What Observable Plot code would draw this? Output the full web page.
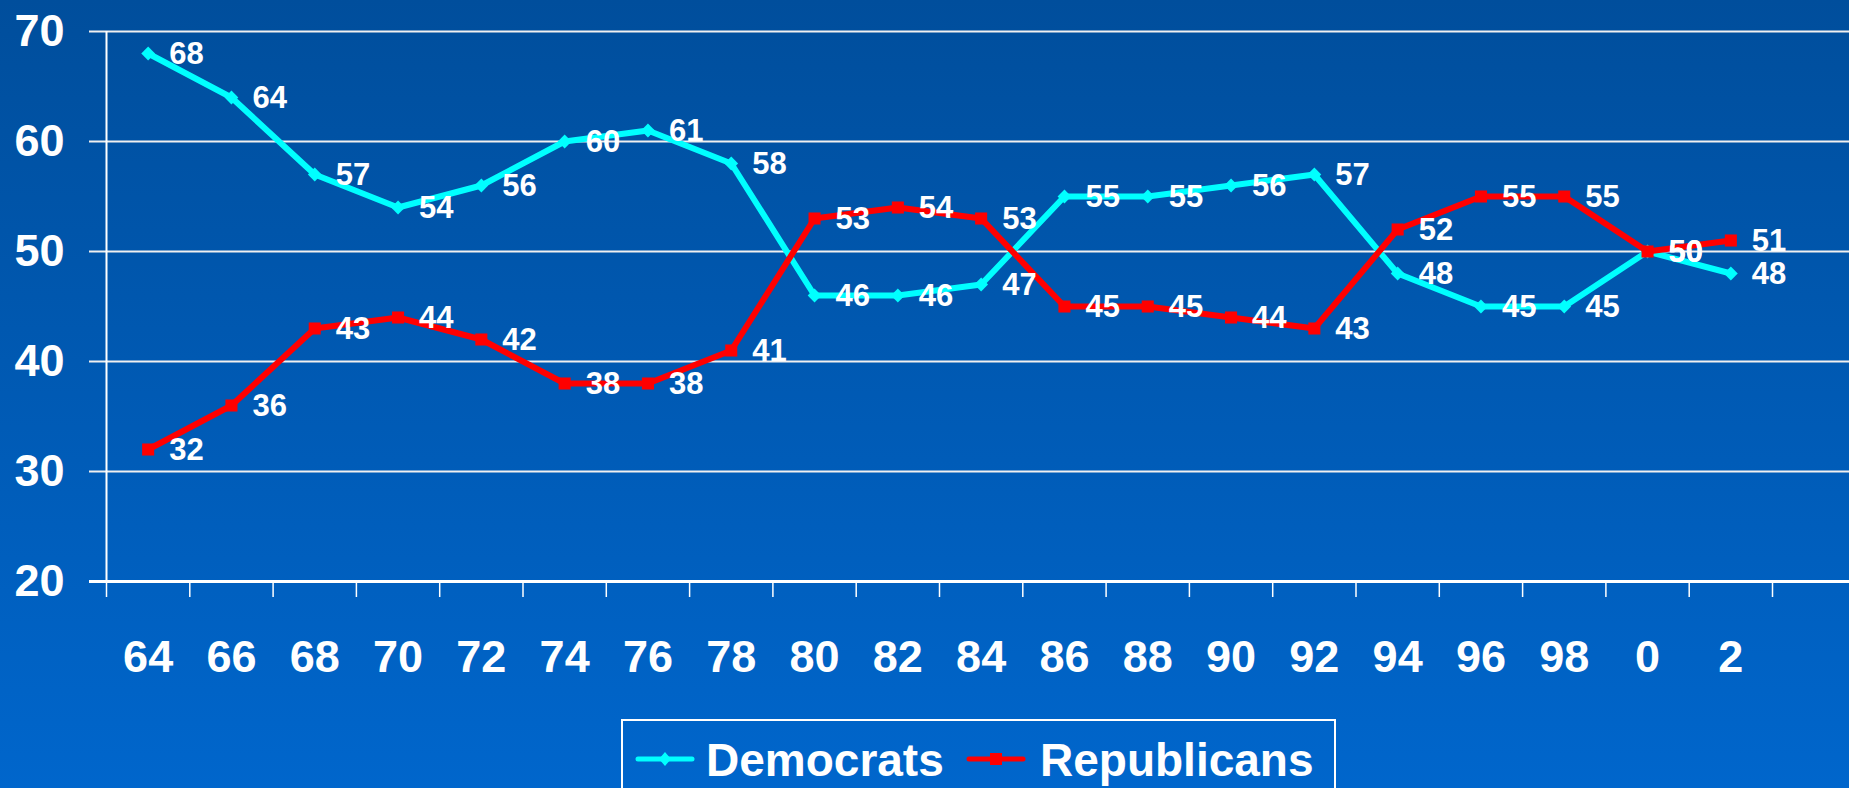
<!DOCTYPE html>
<html><head><meta charset="utf-8">
<script src="https://cdn.jsdelivr.net/npm/d3@7"></script>
<script src="https://cdn.jsdelivr.net/npm/@observablehq/plot@0.6"></script>
<style>
html,body{margin:0;padding:0;background:#0058B0;}
#wrap{position:relative;width:1849px;height:788px;overflow:hidden;background:linear-gradient(to bottom,#004E9C 0%,#0066CC 100%);font-family:"Liberation Sans",Arial,sans-serif;}
#chart{position:absolute;left:0;top:0;}
#legend{position:absolute;left:0;top:0;}
</style>
</head><body>
<div id="wrap"><div id="chart"></div><svg id="legend" width="1849" height="788"></svg></div>
<script>
const years = ["64","66","68","70","72","74","76","78","80","82","84","86","88","90","92","94","96","98","0","2"];
const democrats = [68,64,57,54,56,60,61,58,46,46,47,55,55,56,57,48,45,45,50,48];
const republicans = [32,36,43,44,42,38,38,41,53,54,53,45,45,44,43,52,55,55,50,51];
const yTicks = [20,30,40,50,60,70];
const seriesNames = ["Democrats","Republicans"];
const seriesColors = ["#00FFFF","#FF0000"];

const dem = years.map((yr,i)=>({i, yr, v: democrats[i]}));
const rep = years.map((yr,i)=>({i, yr, v: republicans[i]}));
const bounds = d3.range(years.length+1).map(i=>i-0.5);
const font = '"Liberation Sans", Arial, sans-serif';

const chart = Plot.plot({
  width: 1849,
  height: 700,
  marginLeft: 89,
  marginRight: 0,
  marginTop: 31,
  marginBottom: 119,
  style: {background: "transparent", overflow: "visible", fontFamily: font, color: "white"},
  x: {domain: [-0.5, years.length - 0.5], range: [106, 1772], axis: null},
  y: {domain: [20, 70], axis: null, label: null},
  marks: [
    Plot.ruleY(yTicks.slice(1), {stroke: "#F0F0F0", strokeWidth: 2}),
    Plot.ruleY([20], {stroke: "white", strokeWidth: 3}),
    Plot.ruleX([-0.5], {y1: 20, y2: 70, stroke: "white", strokeWidth: 2}),
    Plot.axisX(bounds, {tickSize: 16, tickFormat: () => "", stroke: "white", strokeWidth: 1.5, strokeOpacity: 1, label: null}),
    Plot.axisX(d3.range(years.length), {tickSize: 0, tickPadding: 59, tickFormat: i => years[i], fontSize: 45, fontWeight: "bold", fill: "white", label: null}),
    Plot.axisY(yTicks, {tickSize: 0, tickPadding: 25, fontSize: 45, fontWeight: "bold", fill: "white", label: null}),
    Plot.line(dem, {x: "i", y: "v", stroke: seriesColors[0], strokeWidth: 6}),
    Plot.dot(dem, {x: "i", y: "v", symbol: "diamond2", r: 6.2, fill: seriesColors[0], stroke: "none"}),
    Plot.line(rep, {x: "i", y: "v", stroke: seriesColors[1], strokeWidth: 6}),
    Plot.dot(rep, {x: "i", y: "v", symbol: "square", r: 6.8, fill: seriesColors[1], stroke: "none"}),
    Plot.text(dem, {x: "i", y: "v", text: d => String(d.v), dx: 21, dy: 1, textAnchor: "start", fontSize: 31, fontWeight: "bold", fill: "white"}),
    Plot.text(rep, {x: "i", y: "v", text: d => String(d.v), dx: 21, dy: 1, textAnchor: "start", fontSize: 31, fontWeight: "bold", fill: "white"})
  ]
});
document.getElementById("chart").appendChild(chart);

// Legend
const lg = d3.select("#legend");
lg.append("rect").attr("x", 622).attr("y", 720).attr("width", 713).attr("height", 100)
  .attr("fill", "none").attr("stroke", "white").attr("stroke-width", 2);
const items = [
  {name: seriesNames[0], color: seriesColors[0], x0: 635, tx: 706, sym: "diamond"},
  {name: seriesNames[1], color: seriesColors[1], x0: 966, tx: 1040, sym: "square"}
];
items.forEach(it => {
  const cy = 759;
  lg.append("line").attr("x1", it.x0 + 3).attr("x2", it.x0 + 57).attr("y1", cy).attr("y2", cy)
    .attr("stroke", it.color).attr("stroke-width", 5).attr("stroke-linecap", "round");
  const cx = it.x0 + 30;
  if (it.sym === "diamond") {
    lg.append("path").attr("d", `M${cx},${cy-7}L${cx+6},${cy}L${cx},${cy+7}L${cx-6},${cy}Z`).attr("fill", it.color);
  } else {
    lg.append("rect").attr("x", cx - 6).attr("y", cy - 6).attr("width", 12).attr("height", 12).attr("fill", it.color);
  }
  lg.append("text").attr("x", it.tx).attr("y", 776).text(it.name)
    .attr("fill", "white").attr("font-size", 46).attr("font-weight", "bold").attr("font-family", font);
});
</script>
</body></html>
